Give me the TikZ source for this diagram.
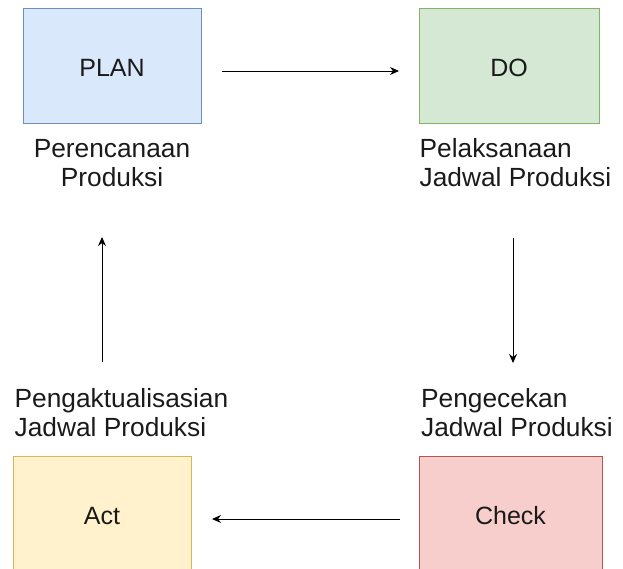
\documentclass[tikz,border=0pt]{standalone}
\usepackage{fontspec}
\setmainfont{Liberation Sans}
\usetikzlibrary{arrows.meta}
\definecolor{planfill}{HTML}{DAE8FC}
\definecolor{planline}{HTML}{6C8EBF}
\definecolor{dofill}{HTML}{D5E8D4}
\definecolor{doline}{HTML}{82B366}
\definecolor{actfill}{HTML}{FFF2CC}
\definecolor{actline}{HTML}{D6B656}
\definecolor{chkfill}{HTML}{F8CECC}
\definecolor{chkline}{HTML}{B85450}
\definecolor{txt}{HTML}{1A1A1A}
\begin{document}
\begin{tikzpicture}[x=1pt,y=-1pt,
  box/.style={draw,line width=1pt,minimum width=178pt,minimum height=115pt,inner sep=0pt,
    text height=21pt,text depth=0pt,
    font=\fontsize{25}{30}\selectfont,text=txt},
  lbl/.style={inner sep=0pt,font=\fontsize{26.3}{29}\selectfont,text=txt},
  flow/.style={line width=1pt,draw=black,-{Stealth[length=9pt,width=8pt]}}]
\useasboundingbox (0,0) rectangle (623,568);
\node[box,fill=planfill,draw=planline] (plan) at (112,65.5) {PLAN};
\node[box,fill=dofill,draw=doline,minimum width=180pt] (do) at (509,65.5) {DO};
\node[box,fill=actfill,draw=actline] (act) at (102,513.5) {Act};
\node[box,fill=chkfill,draw=chkline,minimum width=183pt] (check) at (510.5,513.5) {Check};
\node[lbl,anchor=base] (planlbl) at (112,157)
  {\vtop{\baselineskip=29pt\hbox to 170pt{\hfil Perencanaan\hfil}\hbox to 170pt{\hfil Produksi\hfil}}};
\node[lbl,anchor=base west] (dolbl) at (419.5,157)
  {\vtop{\baselineskip=29pt\hbox{Pelaksanaan}\hbox{Jadwal Produksi}}};
\node[lbl,anchor=base west] (actlbl) at (14.5,407)
  {\vtop{\baselineskip=29pt\hbox{Pengaktualisasian}\hbox{Jadwal Produksi}}};
\node[lbl,anchor=base west] (chklbl) at (421,407)
  {\vtop{\baselineskip=29pt\hbox{Pengecekan}\hbox{Jadwal Produksi}}};
\coordinate (a1s) at (222,71);
\coordinate (a1e) at (399,71);
\coordinate (a2s) at (513,238);
\coordinate (a2e) at (513,363);
\coordinate (a3s) at (400,519);
\coordinate (a3e) at (212,519);
\coordinate (a4s) at (102,362);
\coordinate (a4e) at (102,237);
\draw[flow] (a1s) -- (a1e);
\draw[flow] (a2s) -- (a2e);
\draw[flow] (a3s) -- (a3e);
\draw[flow] (a4s) -- (a4e);
\end{tikzpicture}
\end{document}
